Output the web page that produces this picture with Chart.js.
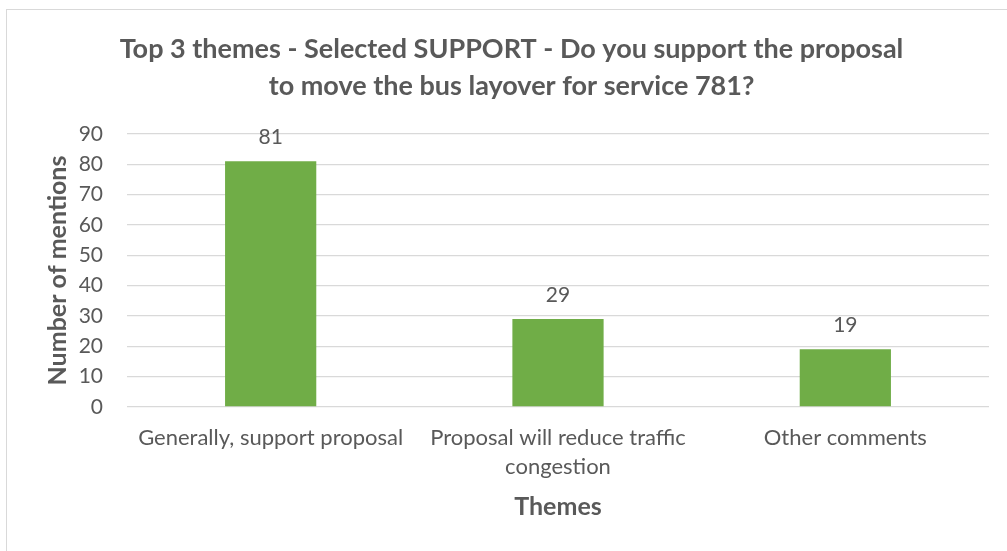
<!DOCTYPE html>
<html>
<head>
<meta charset="utf-8">
<script src="https://cdn.jsdelivr.net/npm/chart.js@4"></script>
<style>
    body { margin: 0; background: #fff; }
    #frame { position: absolute; left: 6px; top: 9px; width: 1010px; height: 560px; border: 1.5px solid #d9d9d9; }
    #wrap { position: absolute; left: 0; top: 0; width: 1007px; height: 551px; }
</style>
</head>
<body>
<div id="frame"></div>
<div id="wrap"><canvas id="themesChart"></canvas></div>
<script>
// chart data
const categories = ['Generally, support proposal', ['Proposal will reduce traffic', 'congestion'], 'Other comments'];
const mentions = [81, 29, 19];
const yTicks = [0, 10, 20, 30, 40, 50, 60, 70, 80, 90];

const textColor = '#595959';
const fontFamily = 'Lato, "Open Sans", sans-serif';

// simple value labels above the bars
const barLabels = {
    id: 'barLabels',
    afterDatasetsDraw(chart) {
        const ctx = chart.ctx;
        const meta = chart.getDatasetMeta(0);
        ctx.save();
        ctx.fillStyle = textColor;
        ctx.font = '21px ' + fontFamily;
        ctx.textAlign = 'center';
        ctx.textBaseline = 'middle';
        meta.data.forEach((bar, i) => {
            ctx.fillText(String(mentions[i]), bar.x, bar.y - 24);
        });
        ctx.restore();
    }
};

new Chart(document.getElementById('themesChart'), {
    type: 'bar',
    data: {
        labels: categories,
        datasets: [{
            data: mentions,
            backgroundColor: '#70AD47',
            barPercentage: 0.635,
            categoryPercentage: 0.5
        }]
    },
    options: {
        responsive: true,
        maintainAspectRatio: false,
        animation: false,
        layout: { padding: { left: 34, right: 18, top: 0, bottom: 0 } },
        plugins: {
            legend: { display: false },
            tooltip: { enabled: false },
            title: {
                display: true,
                text: ['Top 3 themes - Selected SUPPORT - Do you support the proposal', 'to move the bus layover for service 781?'],
                color: textColor,
                font: { family: fontFamily, size: 27, weight: 'bold', lineHeight: 1.37 },
                padding: { top: 31, bottom: 29 }
            }
        },
        scales: {
            x: {
                grid: { display: false, drawTicks: false },
                border: { display: false },
                ticks: {
                    color: textColor,
                    font: { family: fontFamily, size: 22, lineHeight: 1.32 },
                    padding: 16,
                    maxRotation: 0
                },
                title: {
                    display: true,
                    text: 'Themes',
                    color: textColor,
                    font: { family: fontFamily, size: 25, weight: 'bold', lineHeight: 1.2 },
                    padding: { top: 0, bottom: 29 }
                },
                afterFit(scale) { scale.height = 144; }
            },
            y: {
                min: 0,
                max: 90,
                afterBuildTicks(scale) { scale.ticks = yTicks.map(v => ({ value: v })); },
                grid: { color: '#d9d9d9', lineWidth: 1.3, drawTicks: false },
                border: { display: false },
                ticks: {
                    color: textColor,
                    font: { family: fontFamily, size: 21 },
                    padding: 24
                },
                title: {
                    display: true,
                    text: 'Number of mentions',
                    color: textColor,
                    font: { family: fontFamily, size: 25, weight: 'bold', lineHeight: 1.2 },
                    padding: { top: 9, bottom: 0 }
                },
                afterFit(scale) { scale.width = 93; }
            }
        }
    },
    plugins: [barLabels]
});
</script>
</body>
</html>
